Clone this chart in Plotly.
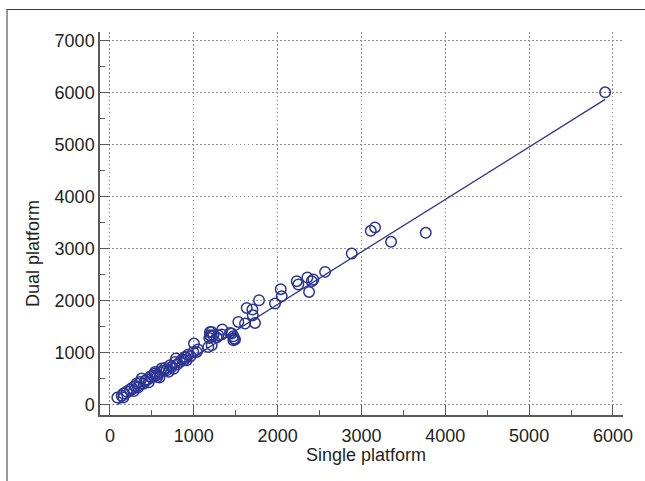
import plotly.graph_objects as go

# ---- data ----
single_platform = [88, 159, 140, 159, 200, 239, 262, 285, 298, 318, 335, 358, 378, 400, 420,
                   438, 462, 480, 510, 537, 537, 557, 565, 590, 597, 617, 640, 656, 676, 700,
                   716, 736, 760, 776, 788, 800, 835, 860, 883, 895, 907, 915, 930, 960, 994,
                   1002, 1034, 1050, 1173, 1185, 1193, 1193, 1205, 1213, 1213, 1233, 1273, 1292,
                   1333, 1340, 1432, 1452, 1472, 1472, 1480, 1492, 1531, 1611, 1631, 1699, 1703,
                   1730, 1778, 1969, 2037, 2049, 2228, 2247, 2355, 2375, 2407, 2426, 2566, 2884,
                   3111, 3162, 3353, 3767, 5907]
dual_platform = [135, 135, 170, 212, 250, 289, 320, 260, 352, 404, 330, 435, 500, 400, 460,
                 481, 430, 540, 560, 597, 628, 564, 531, 520, 628, 693, 650, 705, 660, 630,
                 757, 724, 690, 820, 886, 770, 820, 870, 853, 916, 905, 853, 960, 930, 1013,
                 1174, 1013, 1060, 1109, 1282, 1334, 1398, 1315, 1142, 1398, 1334, 1290, 1334,
                 1348, 1444, 1379, 1367, 1315, 1238, 1271, 1251, 1590, 1559, 1860, 1829, 1719,
                 1571, 2008, 1944, 2220, 2085, 2374, 2310, 2445, 2168, 2374, 2406, 2553, 2907,
                 3342, 3408, 3131, 3304, 6007]

# regression line: dual = slope * single + intercept
fit_slope = 1.009
fit_intercept = -90.0

x_ticks = [0, 1000, 2000, 3000, 4000, 5000, 6000]
y_ticks = [0, 1000, 2000, 3000, 4000, 5000, 6000, 7000]

NAVY = "#2b3591"
AXIS = "#5a5a5a"
TEXT = "#231f20"
FONT = "Liberation Sans, Arial, sans-serif"

x_line = [min(single_platform), max(single_platform)]
y_line = [fit_slope * v + fit_intercept for v in x_line]

fig = go.Figure()
fig.add_trace(go.Scatter(x=x_line, y=y_line, mode="lines",
                         line=dict(color=NAVY, width=1.3), showlegend=False,
                         hoverinfo="skip"))
fig.add_trace(go.Scatter(x=single_platform, y=dual_platform, mode="markers",
                         marker=dict(symbol="circle-open", size=10.5, color=NAVY,
                                     line=dict(width=1.5, color=NAVY)),
                         showlegend=False))

axis_common = dict(
    showline=True, linecolor=AXIS, linewidth=1.5,
    ticks="inside", ticklen=10, tickwidth=1.3, tickcolor=AXIS,
    showgrid=True, gridcolor="#8f8f8f", gridwidth=1, griddash="1.5px,2.5px",
    zeroline=False, tickfont=dict(family=FONT, size=18, color=TEXT),
    mirror=False,
)

fig.update_xaxes(range=[-119, 6120], tickvals=x_ticks, ticktext=[str(v) for v in x_ticks],
                 minor=dict(ticks="inside", ticklen=5, tickwidth=1.3, tickcolor=AXIS,
                            dtick=500, tick0=0, showgrid=False),
                 ticklabelstandoff=4, **axis_common)
fig.update_yaxes(range=[-200, 7167], tickvals=y_ticks, ticktext=[str(v) for v in y_ticks],
                 minor=dict(ticks="inside", ticklen=5, tickwidth=1.3, tickcolor=AXIS,
                            dtick=500, tick0=0, showgrid=False),
                 ticklabelstandoff=0, **axis_common)

W, H = 645, 481
L, R, T, B = 100, 22, 32, 66
pw, ph = W - L - R, H - T - B

def px_to_paper_x(px):
    return (px - L) / pw

def px_to_paper_y(py):
    return (H - B - py) / ph

fig.update_layout(
    width=W, height=H,
    margin=dict(l=L, r=R, t=T, b=B, pad=0),
    paper_bgcolor="white", plot_bgcolor="white",
    font=dict(family=FONT, color=TEXT),
    annotations=[
        dict(text="Single platform", xref="paper", yref="paper",
             x=px_to_paper_x(366), y=px_to_paper_y(455), showarrow=False,
             xanchor="center", yanchor="middle",
             font=dict(family=FONT, size=18, color=TEXT)),
        dict(text="Dual platform", xref="paper", yref="paper", textangle=-90,
             x=px_to_paper_x(33), y=px_to_paper_y(254), showarrow=False,
             xanchor="center", yanchor="middle",
             font=dict(family=FONT, size=18, color=TEXT)),
    ],
)

# page frame (left and top border of the figure panel), drawn as a CSS overlay
frame_js = (
    "document.documentElement.style.overflow='hidden';"
    "document.body.style.margin='0';document.body.style.overflow='hidden';"
    "var f=document.createElement('div');"
    "f.style.cssText='position:fixed;left:6px;top:9px;width:639px;height:472px;"
    "border-left:2px solid #9a9a9a;border-top:1.5px solid #3a3a3a;pointer-events:none;"
    "box-sizing:border-box;';"
    "document.body.appendChild(f);"
)

fig.write_html(
    "out.html",
    config={"displayModeBar": False},
    post_script=frame_js,
)
